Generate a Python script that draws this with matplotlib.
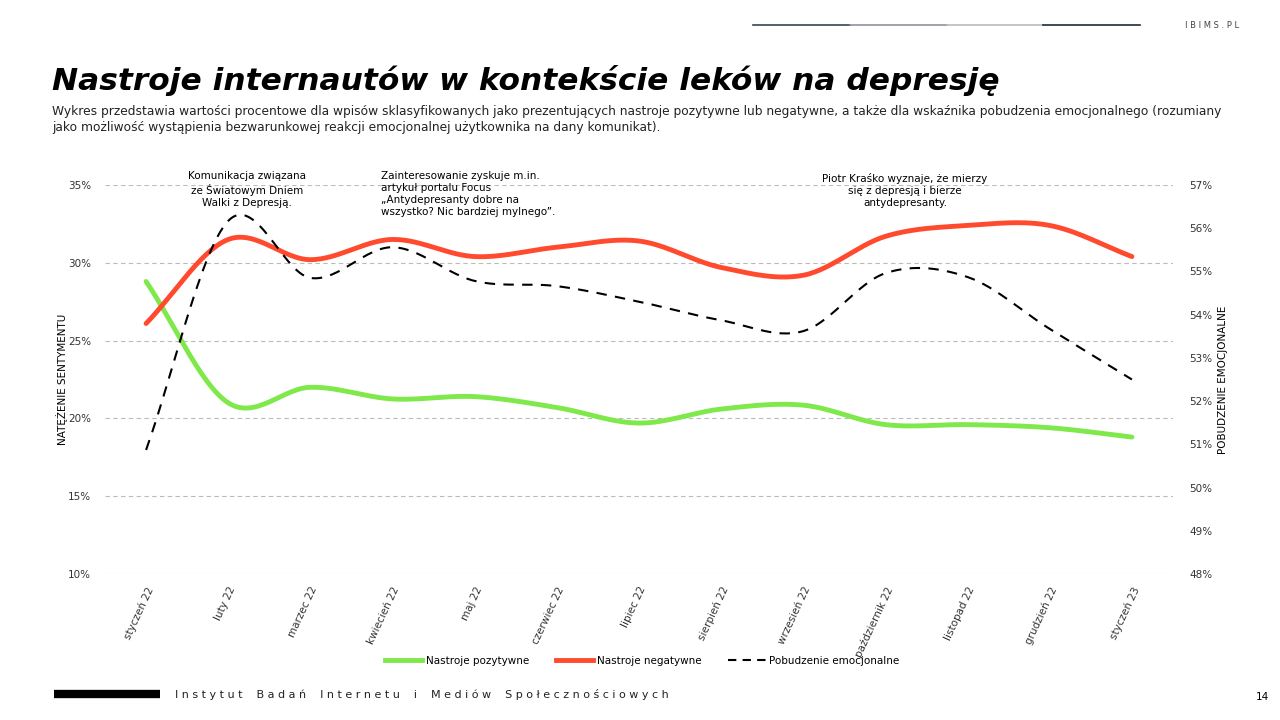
import numpy as np
import matplotlib
matplotlib.use("Agg")
import matplotlib.pyplot as plt
from matplotlib.lines import Line2D

plt.rcParams["font.family"] = ["DejaVu Sans"]

months = ["styczeń 22", "luty 22", "marzec 22", "kwiecień 22", "maj 22", "czerwiec 22",
          "lipiec 22", "sierpień 22", "wrzesień 22", "październik 22", "listopad 22",
          "grudzień 22", "styczeń 23"]
positive = [28.8, 21.0, 22.0, 21.25, 21.4, 20.7, 19.7, 20.6, 20.85, 19.6, 19.6, 19.4, 18.8]
negative = [26.1, 31.5, 30.2, 31.5, 30.4, 31.0, 31.4, 29.7, 29.2, 31.7, 32.4, 32.4, 30.4]
arousal = [50.87, 56.17, 54.85, 55.56, 54.78, 54.66, 54.3, 53.87, 53.62, 54.96, 54.87, 53.67, 52.5]

GREEN = "#7FE84A"
RED = "#FF4A2E"


def smooth(y, n=30):
    # Catmull-Rom spline through the points (like Excel's smoothed line)
    y = np.asarray(y, float)
    p = np.concatenate([[2 * y[0] - y[1]], y, [2 * y[-1] - y[-2]]])
    xs, ys = [], []
    for i in range(len(y) - 1):
        t = np.linspace(0, 1, n, endpoint=False)
        p0, p1, p2, p3 = p[i], p[i + 1], p[i + 2], p[i + 3]
        seg = 0.5 * ((2 * p1) + (-p0 + p2) * t + (2 * p0 - 5 * p1 + 4 * p2 - p3) * t ** 2
                     + (-p0 + 3 * p1 - 3 * p2 + p3) * t ** 3)
        xs.append(i + t)
        ys.append(seg)
    xs.append([len(y) - 1])
    ys.append([y[-1]])
    return np.concatenate(xs), np.concatenate(ys)


fig = plt.figure(figsize=(12.8, 7.2), dpi=100)
ax = fig.add_axes([105 / 1280, 1 - 574 / 720, (1173 - 105) / 1280, (574 - 185) / 720])
ax2 = ax.twinx()

x = np.arange(len(months))
ax.plot(*smooth(positive), color=GREEN, lw=3.5, solid_capstyle="round", zorder=3)
ax.plot(*smooth(negative), color=RED, lw=3.5, solid_capstyle="round", zorder=3)
ax2.plot(*smooth(arousal), color="black", lw=1.5, ls=(0, (5, 4)), zorder=3)

ax.set_xlim(-0.5, len(months) - 0.5)
ax.set_ylim(10, 35)
ax.set_yticks([10, 15, 20, 25, 30, 35])
ax.set_yticklabels([f"{v}%" for v in [10, 15, 20, 25, 30, 35]])
ax2.set_ylim(48, 57)
ax2.set_yticks(range(48, 58))
ax2.set_yticklabels([f"{v}%" for v in range(48, 58)])

ax.grid(axis="y", color="#BBBBBB", ls=(0, (4, 3)), lw=0.8)
ax.set_axisbelow(True)
for a in (ax, ax2):
    for s in a.spines.values():
        s.set_visible(False)
    a.tick_params(length=0, labelsize=7.5, colors="#333333")
ax.tick_params(axis="y", pad=10)
ax2.tick_params(axis="y", pad=12)

ax.set_xticks(x)
ax.set_xticklabels(months, rotation=65, ha="right", va="top", rotation_mode="anchor", fontsize=7.5)
ax.tick_params(axis="x", pad=8)

ax.set_ylabel("NATĘŻENIE SENTYMENTU", fontsize=7.5, labelpad=0)
ax2.set_ylabel("POBUDZENIE EMOCJONALNE", fontsize=7.5, labelpad=4)

# annotations
fig.text(247 / 1280, 1 - 171 / 720, "Komunikacja związana\nze Światowym Dniem\nWalki z Depresją.",
         ha="center", va="top", fontsize=7.5, linespacing=1.25)
fig.text(381 / 1280, 1 - 171 / 720,
         "Zainteresowanie zyskuje m.in.\nartykuł portalu Focus\n„Antydepresanty dobre na\nwszystko? Nic bardziej mylnego”.",
         ha="left", va="top", fontsize=7.5, linespacing=1.25)
fig.text(905 / 1280, 1 - 173 / 720, "Piotr Kraśko wyznaje, że mierzy\nsię z depresją i bierze\nantydepresanty.",
         ha="center", va="top", fontsize=7.5, linespacing=1.25)

# legend
handles = [Line2D([], [], color=GREEN, lw=3.5),
           Line2D([], [], color=RED, lw=3.5),
           Line2D([], [], color="black", lw=1.5, ls=(0, (4, 3)))]
fig.legend(handles, ["Nastroje pozytywne", "Nastroje negatywne", "Pobudzenie emocjonalne"],
           loc="center", bbox_to_anchor=(642 / 1280, 1 - 661 / 720), ncol=3, frameon=False,
           fontsize=7.5, handlelength=3.6, columnspacing=2.6, handletextpad=0.3)

# title block
fig.text(52 / 1280, 1 - 80 / 720, "Nastroje internautów w kontekście leków na depresję",
         fontsize=22.5, fontweight="bold", fontstyle="italic", va="center", ha="left")
fig.text(52 / 1280, 1 - 112 / 720,
         "Wykres przedstawia wartości procentowe dla wpisów sklasyfikowanych jako prezentujących nastroje pozytywne lub negatywne, a także dla wskaźnika pobudzenia emocjonalnego (rozumiany",
         fontsize=8.8, va="center", ha="left", color="#222222")
fig.text(52 / 1280, 1 - 127 / 720,
         "jako możliwość wystąpienia bezwarunkowej reakcji emocjonalnej użytkownika na dany komunikat).",
         fontsize=8.8, va="center", ha="left", color="#222222")

# header / footer decorations
seg_cols = ["#3A4350", "#8C939B", "#B8BCC1", "#1F2A3A"]
xs = np.linspace(753, 1140, 5) / 1280
for c, x0, x1 in zip(seg_cols, xs[:-1], xs[1:]):
    fig.add_artist(Line2D([x0, x1], [1 - 25 / 720] * 2, color=c, lw=1.2))
fig.text(1212 / 1280, 1 - 25 / 720, "I B I M S . P L", fontsize=6, ha="center", va="center",
         color="#444444")
fig.add_artist(Line2D([54 / 1280, 160 / 1280], [1 - 694 / 720] * 2, color="black", lw=6,
                      solid_capstyle="butt"))
fig.text(175 / 1280, 1 - 694 / 720,
         " ".join("Instytut Badań Internetu i Mediów Społecznościowych").replace("   ", "    "),
         fontsize=8, ha="left", va="center", color="#222222")
fig.text(1262 / 1280, 1 - 697 / 720, "14", fontsize=7.5, ha="center", va="center")

fig.savefig("out.png", dpi=100)
